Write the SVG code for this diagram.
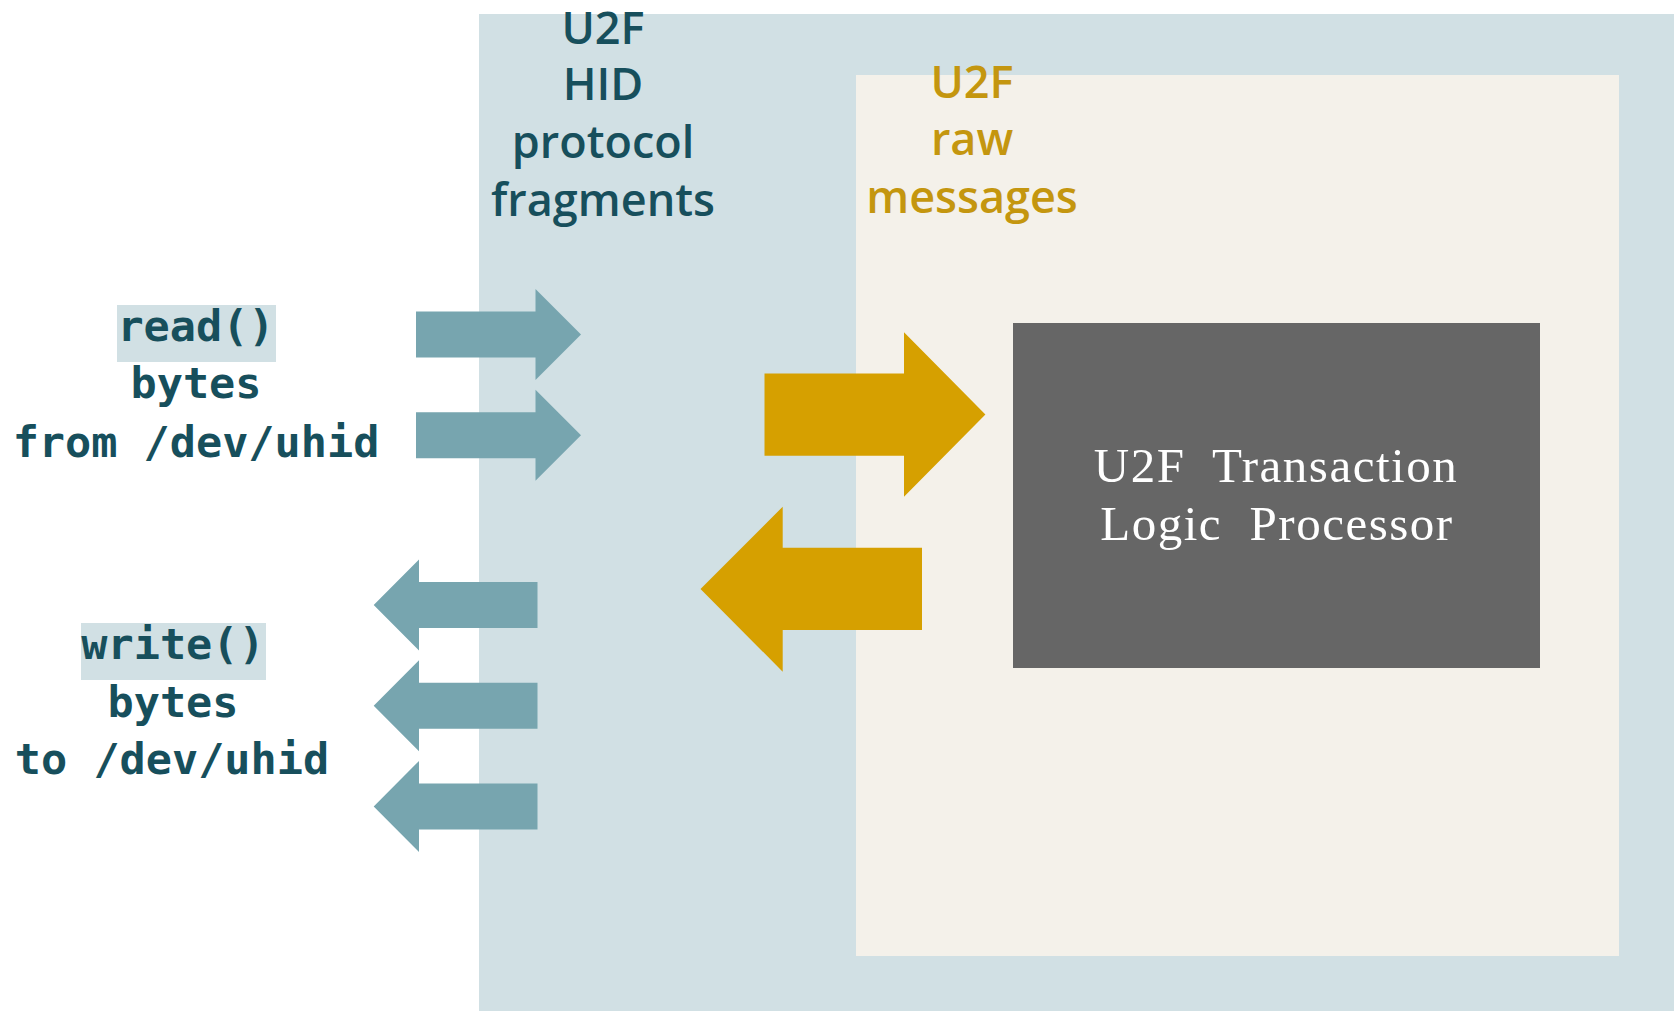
<svg xmlns="http://www.w3.org/2000/svg" width="1674" height="1011" viewBox="0 0 1674 1011">
  <style>
    .zone-outer { fill: #D1E0E4; }
    .zone-inner { fill: #F4F1EA; }
    .proc { fill: #666666; }
    .hl { fill: #D1E0E4; }
    .head { font-family: "Open Sans", "Noto Sans", sans-serif; font-weight: 600; font-size: 45px; text-anchor: middle; }
    .teal-t { fill: #174F5C; }
    .gold-t { fill: #C4960F; }
    .mono { font-family: "DejaVu Sans Mono", "Liberation Mono", monospace; font-weight: bold; font-size: 43.5px; fill: #174F5C; text-anchor: middle; }
    .serif { font-family: "Liberation Serif", "Times New Roman", serif; font-size: 49px; fill: #FFFFFF; text-anchor: middle; letter-spacing: 1.5px; }
    .a-teal { fill: #77A5AF; }
    .a-gold { fill: #D6A000; }
  </style>

  <!-- HID protocol layer -->
  <g id="hid-layer">
    <rect class="zone-outer" x="479" y="14" width="1195" height="997"/>
    <text class="head teal-t" x="603" y="44">U2F</text>
    <text class="head teal-t" x="603" y="100">HID</text>
    <text class="head teal-t" x="603" y="158">protocol</text>
    <text class="head teal-t" x="603" y="216">fragments</text>
  </g>

  <!-- raw message layer -->
  <g id="raw-layer">
    <rect class="zone-inner" x="856" y="75" width="763" height="881"/>
    <text class="head gold-t" x="972" y="98">U2F</text>
    <text class="head gold-t" x="972" y="155">raw</text>
    <text class="head gold-t" x="972" y="213">messages</text>
  </g>

  <!-- transaction processor -->
  <g id="processor">
    <rect class="proc" x="1013" y="323" width="527" height="345"/>
    <text class="serif" x="1276" y="482" xml:space="preserve">U2F  Transaction</text>
    <text class="serif" x="1277" y="540" xml:space="preserve">Logic  Processor</text>
  </g>

  <!-- read side label -->
  <g id="read-label">
    <rect class="hl" x="117" y="305" width="159" height="57"/>
    <text class="mono" x="196" y="341">read()</text>
    <text class="mono" x="196" y="398">bytes</text>
    <text class="mono" x="196" y="457" xml:space="preserve">from /dev/uhid</text>
  </g>

  <!-- write side label -->
  <g id="write-label">
    <rect class="hl" x="81" y="623" width="185" height="57"/>
    <text class="mono" x="173" y="659">write()</text>
    <text class="mono" x="173" y="717">bytes</text>
    <text class="mono" x="172" y="774" xml:space="preserve">to /dev/uhid</text>
  </g>

  <!-- data flow arrows -->
  <g id="connectors">
    <defs>
      <path id="in-arrow" d="M416,-23 H535.5 V-45.5 L581,0 L535.5,45.5 V23 H416 Z"/>
      <path id="out-arrow" d="M537.5,-23 H419 V-45.5 L373.7,0 L419,45.5 V23 H537.5 Z"/>
    </defs>
    <use href="#in-arrow" class="a-teal" transform="translate(0,334.5)"/>
    <use href="#in-arrow" class="a-teal" transform="translate(0,435.2)"/>
    <use href="#out-arrow" class="a-teal" transform="translate(0,605)"/>
    <use href="#out-arrow" class="a-teal" transform="translate(0,705.7)"/>
    <use href="#out-arrow" class="a-teal" transform="translate(0,806.4)"/>
    <path class="a-gold" d="M764.5,373.5 H904 V332.3 L985.4,414.5 L904,496.7 V455.7 H764.5 Z"/>
    <path class="a-gold" d="M922,547.7 H782.7 V506.7 L700.5,589 L782.7,671.7 V630 H922 Z"/>
  </g>
</svg>
